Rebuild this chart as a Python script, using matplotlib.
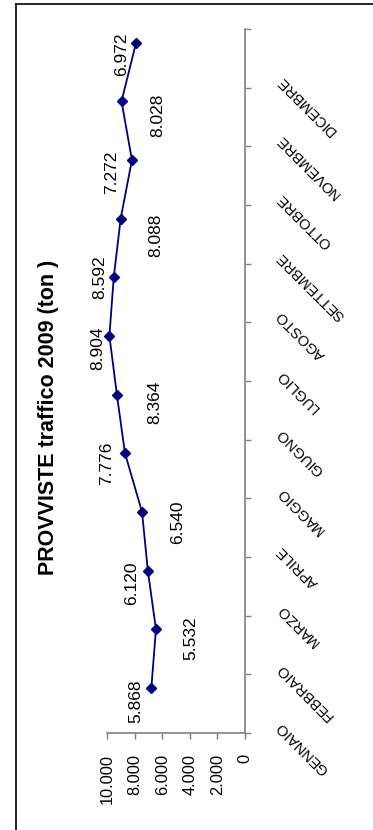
import matplotlib
matplotlib.use("Agg")
import matplotlib.pyplot as plt
from matplotlib import transforms
from matplotlib.lines import Line2D

plt.rcParams["font.family"] = ["Liberation Sans", "DejaVu Sans"]

months = ["GENNAIO", "FEBBRAIO", "MARZO", "APRILE", "MAGGIO", "GIUGNO",
          "LUGLIO", "AGOSTO", "SETTEMBRE", "OTTOBRE", "NOVEMBRE", "DICEMBRE"]
values = [5868, 5532, 6120, 6540, 7776, 8364, 8904, 8592, 8088, 7272, 8028, 6972]
value_ticks = [0, 2000, 4000, 6000, 8000, 10000]
title = "PROVVISTE traffico 2009 (ton )"

# label placement relative to the marker, in pixels (x right, y down)
label_offsets = [(-16, 13), (35, 9), (-16, 13), (36, 10), (-18, 10), (38, 8),
                 (-12, 12), (-14, 0), (35, 17), (-20, 12), (36, 14), (-14, 12)]

W, H = 373, 830
fig = plt.figure(figsize=(W / 100, H / 100), dpi=100)
ax = fig.add_axes([107 / W, 97 / H, 138 / W, 704 / H])

n = len(months)
ax.set_xlim(10000, 0)
ax.set_ylim(-0.5, n - 0.5)

# the series layer is drawn slightly shifted from the axis frame
line_trans = transforms.offset_copy(ax.transData, fig=fig, x=-12.7, y=15.7, units="dots")
ax.plot(values, range(n), color="#000080", lw=1.3, marker="D", ms=5.2,
        transform=line_trans, clip_on=False)

px = 72 / 100
for i, (v, (dx, dy)) in enumerate(zip(values, label_offsets)):
    ax.annotate(f"{v:,}".replace(",", "."), xy=(v, i), xycoords=line_trans,
                xytext=(dx * px, -dy * px), textcoords="offset points",
                rotation=90, ha="center", va="center", fontsize=12.5)

for s in ["left", "top"]:
    ax.spines[s].set_visible(False)
for s in ["bottom", "right"]:
    ax.spines[s].set_color("#808080")
    ax.spines[s].set_linewidth(1.2)

ax.set_xticks(value_ticks)
ax.set_xticklabels([f"{t:,}".replace(",", ".") for t in value_ticks],
                   rotation=90, fontsize=11.8)
ax.tick_params(axis="x", direction="out", length=4, width=1, color="#808080", pad=11)

ax.yaxis.set_ticks_position("right")
ax.set_yticks([k - 0.5 for k in range(n + 1)])
ax.set_yticklabels([])
ax.tick_params(axis="y", direction="out", length=4, width=1, color="#808080")

for i, m in enumerate(months):
    ax.annotate(m, xy=(1, i), xycoords=("axes fraction", "data"),
                xytext=(34 * px, -20 * px), textcoords="offset points",
                rotation=135, rotation_mode="anchor", ha="right", va="center",
                fontsize=10.5)

fig.text(48.5 / W, 1 - 417 / H, title, rotation=90, ha="center", va="center",
         fontsize=15.5, fontweight="bold")

# outer chart border (left and top edges only)
fig.add_artist(Line2D([16 / W, 16 / W], [0, 1 - 4 / H], color="black", lw=1.2,
                      transform=fig.transFigure))
fig.add_artist(Line2D([16 / W, 1], [1 - 4 / H, 1 - 4 / H], color="black", lw=1.2,
                      transform=fig.transFigure))

fig.savefig("out.png", dpi=100)
